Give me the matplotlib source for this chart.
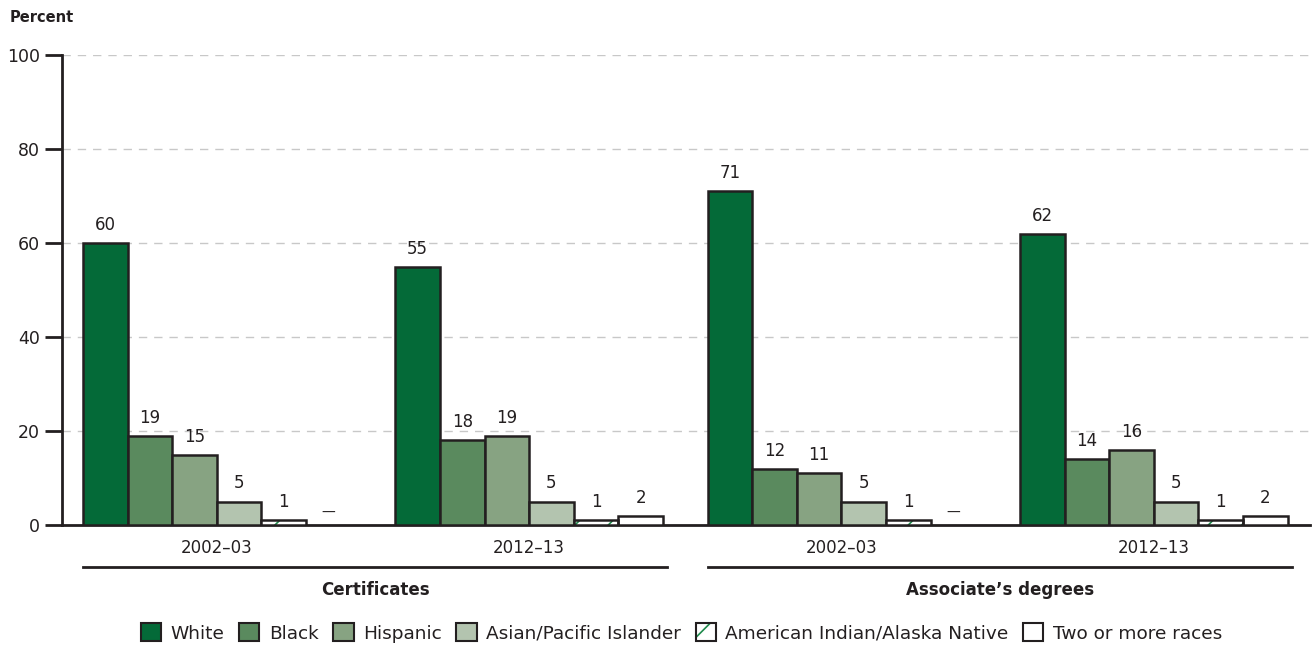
import numpy as np
import matplotlib
matplotlib.use("Agg")
import matplotlib.pyplot as plt
from matplotlib.patches import Patch
from matplotlib.legend_handler import HandlerTuple
import matplotlib.transforms as mtransforms

plt.rcParams['font.family'] = ['DejaVu Sans']
plt.rcParams['hatch.linewidth'] = 1.2

# data
groups = ["2002\u201303", "2012\u201313", "2002\u201303", "2012\u201313"]
categories = ["Certificates", "Associate\u2019s degrees"]
races = ["White", "Black", "Hispanic", "Asian/Pacific Islander",
         "American Indian/Alaska Native", "Two or more races"]
white = [60, 55, 71, 62]
black = [19, 18, 12, 14]
hispanic = [15, 19, 11, 16]
asian = [5, 5, 5, 5]
aian = [1, 1, 1, 1]
two_more = [None, 2, None, 2]
series = [white, black, hispanic, asian, aian, two_more]

colors = ["#046a38", "#5a8a5e", "#87a382", "#b3c4af", "white", "white"]
edge = "#231f20"
hatch_green = "#1f8a4c"

fig = plt.figure(figsize=(13.12, 6.45), dpi=100)
ax = fig.add_axes([62 / 1312, 1 - 525 / 645, 1248 / 1312, 470 / 645])

step = 7
base = np.arange(len(groups)) * step
for i, vals in enumerate(series):
    xs = base + i
    for x, v in zip(xs, vals):
        if v is None:
            # not available
            ax.annotate("\u2014", (x, 0), xytext=(0, 12), textcoords="offset pixels",
                        ha="center", va="center", fontsize=10, color=edge)
            continue
        if i == 4:
            ax.bar(x, v, width=1, color="white", edgecolor=hatch_green, hatch="/",
                   linewidth=0, zorder=3)
            ax.bar(x, v, width=1, facecolor="none", edgecolor=edge, linewidth=1.8, zorder=4)
        else:
            ax.bar(x, v, width=1, color=colors[i], edgecolor=edge, linewidth=1.8, zorder=3)
        ax.annotate(str(v), (x, v), xytext=(0, 9), textcoords="offset pixels",
                    ha="center", va="bottom", fontsize=12, color=edge)

ax.set_ylim(0, 100)
ax.set_xlim(-0.97, 27)
ax.set_yticks([0, 20, 40, 60, 80, 100])
ax.yaxis.grid(True, linestyle=(0, (6, 5)), color="#c8c8c8", linewidth=1)
ax.set_axisbelow(True)
ax.set_xticks(base + 2.5)
ax.set_xticklabels(groups, fontsize=12, color=edge)
ax.tick_params(axis="x", length=0, pad=10)
ax.tick_params(axis="y", length=12, width=2, color=edge, labelsize=12.5,
               labelcolor=edge, pad=4)
for s in ["top", "right"]:
    ax.spines[s].set_visible(False)
for s in ["left", "bottom"]:
    ax.spines[s].set_linewidth(2)
    ax.spines[s].set_color(edge)

# category underlines and labels
trans = mtransforms.blended_transform_factory(ax.transData, ax.transAxes)
for k, cat in enumerate(categories):
    x0 = base[2 * k] - 0.5
    x1 = base[2 * k + 1] + 5.6
    ax.plot([x0, x1], [-0.089, -0.089], transform=trans, color=edge,
            linewidth=2, clip_on=False)
    ax.text((x0 + x1) / 2, -0.138, cat, transform=trans, ha="center", va="center",
            fontsize=12, fontweight="bold", color=edge)

fig.text(10 / 1312, 1 - 18 / 645, "Percent", ha="left", va="center",
         fontsize=10.5, fontweight="bold", color=edge)

# legend
handles = []
for i, r in enumerate(races):
    if i == 4:
        h = (Patch(facecolor="white", edgecolor=hatch_green, hatch="/", linewidth=0),
             Patch(facecolor="none", edgecolor=edge, linewidth=1.5))
    else:
        h = Patch(facecolor=colors[i], edgecolor=edge, linewidth=1.5)
    handles.append(h)
fig.legend(handles, races, loc="center", bbox_to_anchor=(0.5194, 1 - 633 / 645),
           ncol=6, frameon=False, fontsize=13.3, handlelength=1.1, handleheight=1.1,
           handletextpad=0.5, columnspacing=0.8, borderaxespad=0, borderpad=0,
           handler_map={tuple: HandlerTuple(ndivide=1, pad=0)},
           labelcolor=edge)

fig.savefig("out.png", dpi=100, facecolor="white")
